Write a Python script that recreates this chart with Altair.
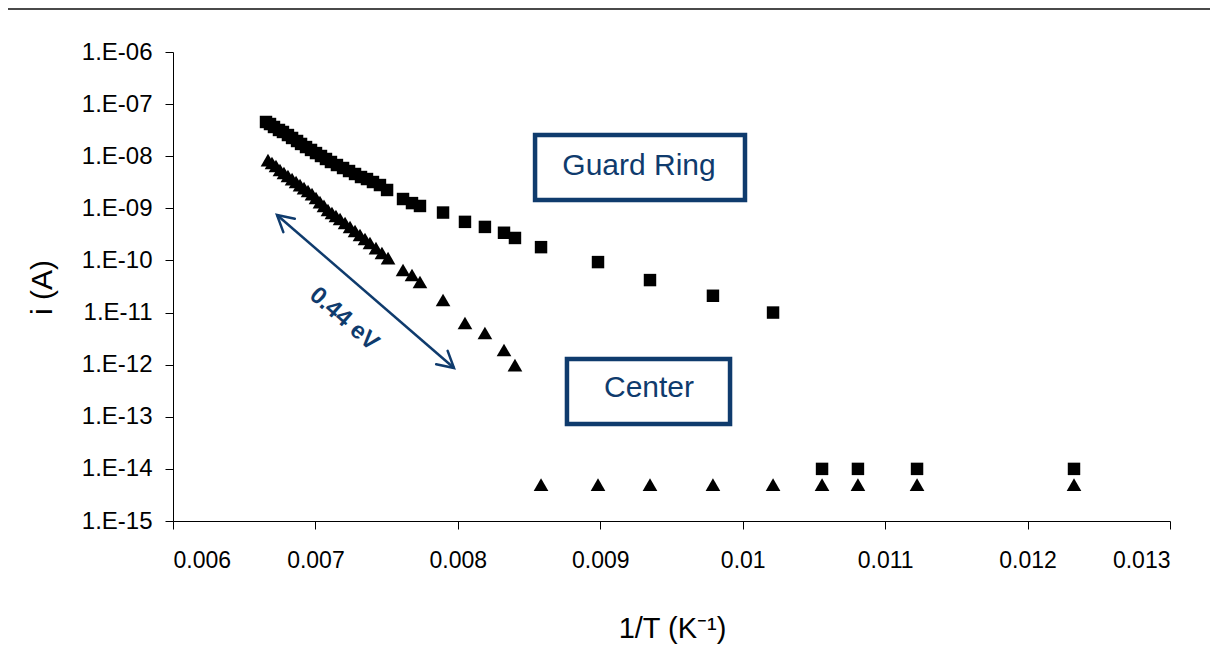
import altair as alt
import pandas as pd

# ---------------- data ----------------
guard_x = [0.006653, 0.006681, 0.006709, 0.006744, 0.006772, 0.006807, 0.006836, 0.006871,
           0.006899, 0.006934, 0.006969, 0.007004, 0.007039, 0.007074, 0.007109, 0.007151,
           0.007194, 0.007236, 0.007278, 0.007320, 0.007362, 0.007404, 0.007453, 0.007503,
           0.007615, 0.007678, 0.007734,
           0.007896, 0.008050, 0.008190, 0.008324, 0.008401, 0.008584, 0.008984, 0.009349,
           0.009791, 0.010213,
           0.010557, 0.010809, 0.011224, 0.012326]
guard_y = [4.54e-8, 4.15e-8, 3.64e-8, 3.19e-8, 2.92e-8, 2.55e-8, 2.24e-8, 1.96e-8,
           1.72e-8, 1.50e-8, 1.32e-8, 1.15e-8, 1.01e-8, 8.85e-9, 7.75e-9, 6.78e-9,
           5.94e-9, 5.20e-9, 4.56e-9, 3.99e-9, 3.65e-9, 3.20e-9, 2.80e-9, 2.25e-9,
           1.51e-9, 1.26e-9, 1.11e-9,
           8.3e-10, 5.5e-10, 4.4e-10, 3.4e-10, 2.7e-10, 1.8e-10, 9.3e-11, 4.2e-11,
           2.1e-11, 1.0e-11,
           1.0e-14, 1.0e-14, 1.0e-14, 1.0e-14]

center_x = [0.006667, 0.006695, 0.006723, 0.006751, 0.006779, 0.006807, 0.006836, 0.006864,
            0.006892, 0.006920, 0.006948, 0.006976, 0.007004, 0.007032, 0.007060, 0.007088,
            0.007116, 0.007144, 0.007173, 0.007208, 0.007243, 0.007278, 0.007313, 0.007348,
            0.007383, 0.007425, 0.007467, 0.007510, 0.007615, 0.007678, 0.007734,
            0.007896, 0.008050, 0.008190, 0.008324, 0.008401,
            0.008584, 0.008984, 0.009349, 0.009791, 0.010213, 0.010557, 0.010809, 0.011224,
            0.012326]
center_y = [8.45e-9, 7.41e-9, 6.49e-9, 5.44e-9, 4.77e-9, 4.17e-9, 3.65e-9, 3.20e-9,
            2.80e-9, 2.45e-9, 2.15e-9, 1.88e-9, 1.58e-9, 1.32e-9, 1.11e-9, 9.29e-10,
            8.13e-10, 7.13e-10, 6.24e-10, 5.23e-10, 4.38e-10, 3.67e-10, 3.08e-10, 2.58e-10,
            2.16e-10, 1.73e-10, 1.39e-10, 1.11e-10, 6.56e-11, 5.26e-11, 3.86e-11,
            1.74e-11, 6.30e-12, 4.05e-12, 1.91e-12, 9.84e-13,
            5e-15, 5e-15, 5e-15, 5e-15, 5e-15, 5e-15, 5e-15, 5e-15,
            5e-15]

x_tick_values = [0.006, 0.007, 0.008, 0.009, 0.010, 0.011, 0.012, 0.013]
x_tick_labels = ["0.006", "0.007", "0.008", "0.009", "0.01", "0.011", "0.012", "0.013"]
y_tick_values = [1e-15, 1e-14, 1e-13, 1e-12, 1e-11, 1e-10, 1e-9, 1e-8, 1e-7, 1e-6]
y_tick_labels = ["1.E-15", "1.E-14", "1.E-13", "1.E-12", "1.E-11", "1.E-10",
                 "1.E-09", "1.E-08", "1.E-07", "1.E-06"]

x_title = "1/T (K\u207b\u00b9)"
y_title = "i (A)"

# annotations (positions in data coordinates)
box_labels = ["Guard Ring", "Center"]
box_x = [0.008542, 0.008766]
box_x2 = [0.010016, 0.009911]
box_y = [2.55e-8, 1.285e-12]
box_y2 = [1.445e-9, 7.26e-14]
box_text_x = [0.009272, 0.009342]
box_text_y = [6.49e-9, 3.56e-13]

arrow_x = [0.006730, 0.007973]
arrow_y = [7.45e-10, 8.63e-13]
arrow_head_angle = [220.8, 40.8]
slope_label = "0.44 eV"
slope_label_x = [0.007201]
slope_label_y = [7.5e-12]

# ---------------- chart ----------------
NAVY = "#0f3b6d"
FONT = "Liberation Sans"

xs = alt.Scale(type="linear", domain=[0.006, 0.013], nice=False, zero=False)
ys = alt.Scale(type="log", domain=[1e-15, 1e-6], nice=False)

x_label_expr = "[" + ",".join("'%s'" % s for s in x_tick_labels) + "][round(datum.value*1000) - 6]"
y_label_expr = "[" + ",".join("'%s'" % s for s in y_tick_labels) + "][round(log(datum.value)/LN10) + 15]"

x_axis = alt.Axis(values=x_tick_values, labelExpr=x_label_expr, title=x_title, grid=False,
                  tickSize=8, labelPadding=20, labelFontSize=23, titleFontSize=29,
                  titleFontWeight="normal", titleX=499, titleY=107, titleBaseline="middle",
                  titleAlign="center")
y_axis = alt.Axis(values=y_tick_values, labelExpr=y_label_expr, title=y_title, grid=False,
                  tickSize=8, labelPadding=13, labelFontSize=24, titleFontSize=30,
                  titleFontWeight="normal", titleX=-131, titleY=235, titleAngle=270,
                  titleBaseline="middle", titleAlign="center")

guard_df = pd.DataFrame({"x": guard_x, "y": guard_y})
center_df = pd.DataFrame({"x": center_x, "y": center_y})

guard = alt.Chart(guard_df).mark_point(shape="square", filled=True, size=155, color="black",
                                       opacity=1).encode(
    x=alt.X("x:Q", scale=xs, axis=x_axis),
    y=alt.Y("y:Q", scale=ys, axis=y_axis),
)
center = alt.Chart(center_df).mark_point(shape="triangle-up", filled=True, size=215,
                                         color="black", opacity=1).encode(
    x=alt.X("x:Q", scale=xs),
    y=alt.Y("y:Q", scale=ys),
)

arrow_df = pd.DataFrame({"x": [arrow_x[0]], "x2": [arrow_x[1]], "y": [arrow_y[0]], "y2": [arrow_y[1]]})
arrow_line = alt.Chart(arrow_df).mark_rule(color=NAVY, strokeWidth=2.5).encode(
    x=alt.X("x:Q", scale=xs), x2="x2:Q", y=alt.Y("y:Q", scale=ys), y2="y2:Q")

heads_df = pd.DataFrame({"x": arrow_x, "y": arrow_y, "ang": arrow_head_angle})
arrow_heads = alt.Chart(heads_df).mark_point(shape="M-1,-0.55L0,0L-1,0.55", filled=False,
                                             size=1024, color=NAVY, strokeWidth=2.5,
                                             opacity=1, strokeCap="round",
                                             strokeJoin="miter").encode(
    x=alt.X("x:Q", scale=xs), y=alt.Y("y:Q", scale=ys),
    angle=alt.Angle("ang:Q", scale=None))

slope_df = pd.DataFrame({"x": slope_label_x, "y": slope_label_y, "t": [slope_label]})
slope_text = alt.Chart(slope_df).mark_text(font=FONT, fontSize=24, fontWeight="bold",
                                           color=NAVY, angle=41, align="center",
                                           baseline="middle").encode(
    x=alt.X("x:Q", scale=xs), y=alt.Y("y:Q", scale=ys), text="t:N")

boxes_df = pd.DataFrame({"x": box_x, "x2": box_x2, "y": box_y, "y2": box_y2})
boxes = alt.Chart(boxes_df).mark_rect(fill="white", stroke=NAVY, strokeWidth=4.5).encode(
    x=alt.X("x:Q", scale=xs), x2="x2:Q", y=alt.Y("y:Q", scale=ys), y2="y2:Q")

box_text_df = pd.DataFrame({"x": box_text_x, "y": box_text_y, "t": box_labels})
box_text = alt.Chart(box_text_df).mark_text(font=FONT, fontSize=30, color=NAVY,
                                            align="center", baseline="middle").encode(
    x=alt.X("x:Q", scale=xs), y=alt.Y("y:Q", scale=ys), text="t:N")

top_df = pd.DataFrame({"a": [0]})
top_line = alt.Chart(top_df).mark_rule(color="#4a4a4a", strokeWidth=2).encode(
    x=alt.value(-165), x2=alt.value(1037), y=alt.value(-43))

chart = alt.layer(top_line, guard, center, arrow_line, arrow_heads, slope_text, boxes,
                  box_text).properties(
    width=997, height=469,
    autosize=alt.AutoSizeParams(type="none"),
    padding={"left": 165, "top": 44, "right": 40, "bottom": 130},
    background="white",
).configure_view(stroke=None).configure_axis(
    domainColor="black", domainWidth=1, tickColor="black", tickWidth=1,
    labelColor="black", titleColor="black", labelFont=FONT, titleFont=FONT,
)

chart.save("out.html", embed_options={"renderer": "svg", "actions": False})
